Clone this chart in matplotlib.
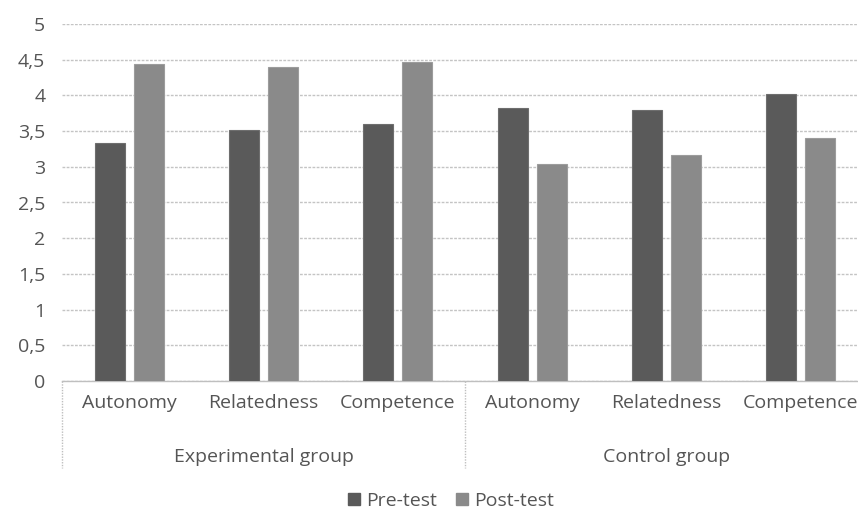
import numpy as np
import matplotlib
matplotlib.use("Agg")
import matplotlib.pyplot as plt
import matplotlib.transforms as mtransforms
from matplotlib.patches import Patch

plt.rcParams['font.family'] = ['Open Sans', 'DejaVu Sans']

# data
categories = ['Autonomy', 'Relatedness', 'Competence',
              'Autonomy', 'Relatedness', 'Competence']
groups = ['Experimental group', 'Control group']
pre_test = [3.34, 3.51, 3.60, 3.82, 3.79, 4.02]
post_test = [4.44, 4.40, 4.47, 3.04, 3.17, 3.40]
y_ticks = [0, 0.5, 1, 1.5, 2, 2.5, 3, 3.5, 4, 4.5, 5]

text_col = '#555555'
fs = 14

fig = plt.figure(figsize=(8.58, 5.11), dpi=100)
# plot area runs a little past the right edge, as in the original screenshot
ax = fig.add_axes([62 / 858, 1 - 381 / 511, 806 / 858, 357 / 511])

x = np.arange(len(categories))
w = 0.225
ax.bar(x - 0.145, pre_test, w, color='#5a5a5a', edgecolor='#6e6e6e', linewidth=0.8, zorder=3)
ax.bar(x + 0.145, post_test, w, color='#8a8a8a', edgecolor='#9c9c9c', linewidth=0.8, zorder=3)

ax.set_xlim(-0.5, len(categories) - 0.5)
ax.set_ylim(0, 5)
ax.set_yticks(y_ticks)
ax.set_yticklabels([f'{t:g}'.replace('.', ',') for t in y_ticks])
ax.yaxis.grid(True, color='#c4c4c4', linestyle=(0, (2, 1)), linewidth=1, zorder=0)
ax.set_axisbelow(True)

for s in ['top', 'right', 'left']:
    ax.spines[s].set_visible(False)
ax.spines['bottom'].set_color('#bfbfbf')
ax.spines['bottom'].set_linewidth(1)

ax.set_xticks(x)
ax.set_xticklabels(categories)
ax.tick_params(axis='both', length=0, labelsize=fs, colors=text_col)
ax.tick_params(axis='x', pad=9)
ax.tick_params(axis='y', pad=12)

# group labels and separators under the category labels
trans = mtransforms.blended_transform_factory(ax.transData, ax.transAxes)
for i, g in enumerate(groups):
    ax.text(i * 3 + 1, -0.212, g, transform=trans, ha='center', va='center',
            fontsize=fs, color=text_col)
for xs in [-0.5, 2.5, 5.5]:
    ax.plot([xs, xs], [0, -0.245], transform=trans, clip_on=False,
            color='#bfbfbf', linestyle=(0, (1, 1)), linewidth=1)

handles = [Patch(color='#5a5a5a', label='Pre-test'),
           Patch(color='#8a8a8a', label='Post-test')]
fig.legend(handles=handles, loc='center', bbox_to_anchor=(451 / 858, 1 - 501 / 511),
           ncol=2, frameon=False, fontsize=fs, labelcolor=text_col,
           handlelength=0.6, handleheight=0.6, handletextpad=0.3, columnspacing=1.0)

fig.savefig('out.png', dpi=100)
